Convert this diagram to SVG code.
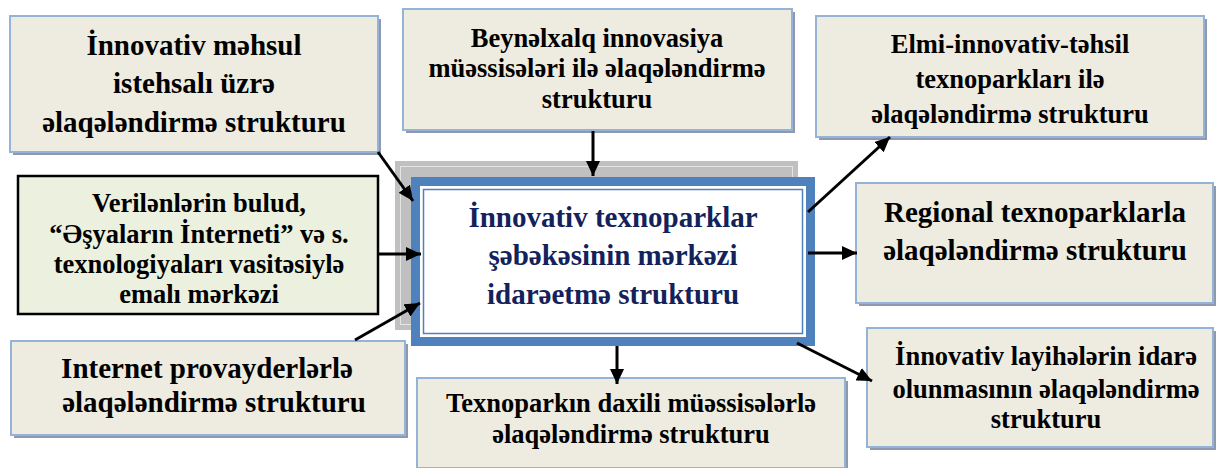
<svg xmlns="http://www.w3.org/2000/svg" width="1216" height="468" viewBox="0 0 1216 468">
<defs>
<style>
.box{fill:#eeece1;stroke:#95b3d7;stroke-width:2}
.shadow{fill:#8e99ad}
.t{font-family:"Liberation Serif","Times New Roman",serif;font-weight:bold;fill:#000;text-anchor:middle}
.big{font-size:29px}
.med{font-size:26.5px}
.ctr{fill:#13225a;font-size:29px}
.conn{stroke:#000;stroke-width:3;fill:none;marker-end:url(#ah)}
</style>
<marker id="ah" markerUnits="userSpaceOnUse" markerWidth="16" markerHeight="14" refX="15" refY="7" orient="auto">
<path d="M0,0 L15,7 L0,14 z" fill="#000"/>
</marker>
<clipPath id="gclip"><rect x="18" y="176" width="360" height="128"/></clipPath>
</defs>
<rect width="1216" height="468" fill="#fff"/>

<g id="center">
<rect x="395" y="161" width="403" height="169" fill="#c0c0c0"/>
<rect x="400.5" y="166.5" width="392" height="158" fill="none" stroke="#e4e4e4" stroke-width="1"/>
<rect x="415.5" y="181.5" width="395" height="160" fill="#fff" stroke="#4f81bd" stroke-width="9"/>
<rect x="423.5" y="189.5" width="379" height="144" fill="#fff" stroke="#4f81bd" stroke-width="1.5"/>
<text class="t ctr" x="613" y="227">İnnovativ texnoparklar</text>
<text class="t ctr" x="613" y="265">şəbəkəsinin mərkəzi</text>
<text class="t ctr" x="613" y="304">idarəetmə strukturu</text>
</g>

<g id="n-innovativ-mehsul">
<rect class="shadow" x="13" y="19" width="368" height="136"/>
<rect class="box" x="10" y="16" width="368" height="136"/>
<text class="t big" x="194" y="55">İnnovativ məhsul</text>
<text class="t big" x="194" y="93">istehsalı üzrə</text>
<text class="t big" x="194" y="132">əlaqələndirmə strukturu</text>
</g>

<g id="n-beynelxalq">
<rect class="shadow" x="406" y="12" width="389" height="121"/>
<rect class="box" x="403" y="9" width="389" height="121"/>
<text class="t med" x="597" y="47">Beynəlxalq innovasiya</text>
<text class="t med" x="597" y="77">müəssisələri ilə əlaqələndirmə</text>
<text class="t med" x="597" y="108">strukturu</text>
</g>

<g id="n-elmi">
<rect class="shadow" x="819" y="19" width="388" height="121"/>
<rect class="box" x="816" y="16" width="388" height="121"/>
<text class="t med" x="1010" y="53">Elmi-innovativ-təhsil</text>
<text class="t med" x="1010" y="88">texnoparkları ilə</text>
<text class="t med" x="1010" y="123">əlaqələndirmə strukturu</text>
</g>

<g id="n-verilenler">
<rect x="18" y="176" width="360" height="138" fill="#ebf1de" stroke="#000" stroke-width="2.5"/>
<g clip-path="url(#gclip)">
<text class="t med" x="199" y="212">Verilənlərin bulud,</text>
<text class="t med" x="199" y="243">“Əşyaların İnterneti” və s.</text>
<text class="t med" x="199" y="273">texnologiyaları vasitəsiylə</text>
<text class="t med" x="199" y="303">emalı mərkəzi</text>
</g>
</g>

<g id="n-regional">
<rect class="shadow" x="859" y="186" width="358" height="120"/>
<rect class="box" x="856" y="183" width="357" height="120"/>
<text class="t big" x="1035" y="222">Regional texnoparklarla</text>
<text class="t big" x="1035" y="260">əlaqələndirmə strukturu</text>
</g>

<g id="n-internet">
<rect class="shadow" x="14" y="344" width="394" height="94"/>
<rect class="box" x="11" y="341" width="394" height="94"/>
<text class="t big" x="207" y="378">Internet provayderlərlə</text>
<text class="t big" x="214" y="412">əlaqələndirmə strukturu</text>
</g>

<g id="n-daxili">
<rect class="shadow" x="420" y="381" width="428" height="90"/>
<rect class="box" x="417" y="378" width="428" height="90"/>
<text class="t med" x="631" y="412">Texnoparkın daxili müəssisələrlə</text>
<text class="t med" x="631" y="443">əlaqələndirmə strukturu</text>
</g>

<g id="n-layiheler">
<rect class="shadow" x="870" y="331" width="346" height="119"/>
<rect class="box" x="867" y="328" width="346" height="119"/>
<text class="t med" x="1046" y="365">İnnovativ layihələrin idarə</text>
<text class="t med" x="1046" y="398">olunmasının əlaqələndirmə</text>
<text class="t med" x="1046" y="428">strukturu</text>
</g>

<g id="connectors">
<line class="conn" x1="378" y1="152" x2="413" y2="201"/>
<line class="conn" x1="593" y1="131" x2="593" y2="176"/>
<line class="conn" x1="377" y1="254" x2="421" y2="254"/>
<line class="conn" x1="355" y1="340" x2="420" y2="303"/>
<line class="conn" x1="808" y1="212" x2="890" y2="137"/>
<line class="conn" x1="808" y1="253" x2="857" y2="253"/>
<line class="conn" x1="617" y1="346" x2="617" y2="384"/>
<line class="conn" x1="797" y1="343" x2="872" y2="381"/>
</g>
</svg>
